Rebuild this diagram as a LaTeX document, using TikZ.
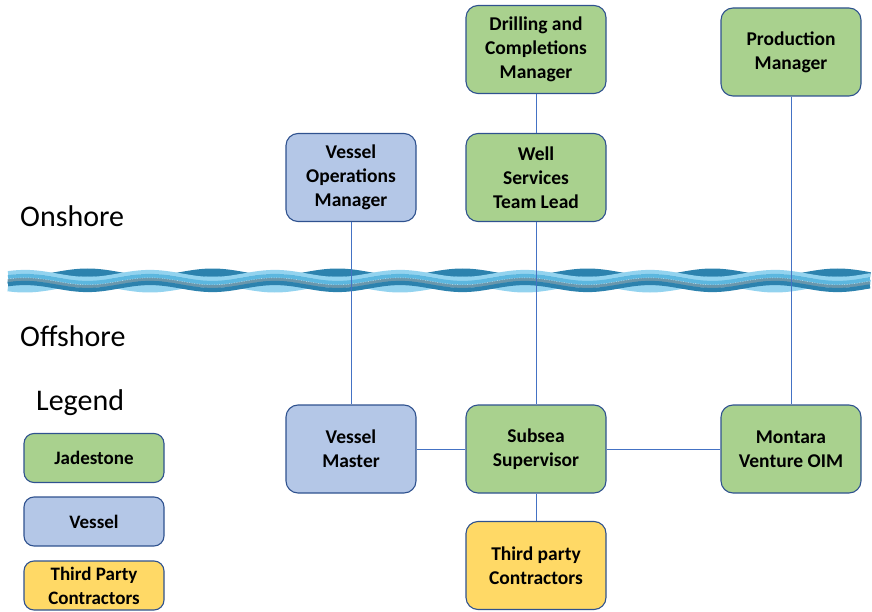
\documentclass[tikz,border=0pt]{standalone}
\usepackage{fontspec}
\setmainfont{Carlito}
\definecolor{jgreen}{HTML}{A9D18E}
\definecolor{vblue}{HTML}{B4C7E7}
\definecolor{tyellow}{HTML}{FFD966}
\definecolor{bord}{HTML}{2F528F}
\definecolor{conn}{HTML}{4472C4}
\definecolor{wdark}{HTML}{2C82AE}
\definecolor{wmid}{HTML}{5CB7DF}
\definecolor{wlight}{HTML}{93D3EF}
\definecolor{wgrey}{HTML}{6A97AC}
\begin{document}
\begin{tikzpicture}[x=1pt,y=-1pt,
  box/.style={draw=bord, line width=1.1pt, rounded corners=12pt, minimum width=140pt, minimum height=88pt, align=center, font=\fontsize{19.5}{24}\selectfont\bfseries, text=black, inner sep=2pt},
  lbox/.style={draw=bord, line width=1.1pt, rounded corners=10pt, minimum width=140pt, minimum height=49pt, align=center, font=\fontsize{19}{24}\selectfont\bfseries, text=black, inner sep=1pt},
  link/.style={draw=conn, line width=0.6pt},
  side/.style={anchor=west, font=\fontsize{30}{34}\selectfont, text=black, inner sep=0pt}]
\useasboundingbox (0,0) rectangle (872,612);
% wave: back ribbon
\foreach \off/\col/\w in {-4/wdark/9, 4/wlight/9}{
  \draw[\col, line width=\w pt] plot[domain=8:870, samples=240] (\x, {280.5 + \off + 3.5*cos(2.88*(\x-150))});
}
% wave: front ribbon
\foreach \off/\col/\w in {-5/wlight/4.2, -1/wmid/4.2, 2.5/wgrey/3.2, 6/wdark/4.2}{
  \draw[\col, line width=\w pt] plot[domain=8:870, samples=240] (\x, {280.5 + \off - 3.5*cos(2.88*(\x-150))});
}
\draw[white, line width=0.4pt, dash pattern=on 1pt off 1.5pt, opacity=0.7] plot[domain=8:870, samples=240] (\x, {281.3 - 3.5*cos(2.88*(\x-150))});
% nodes
\node[box, fill=jgreen] (dcm) at (536,49.5) {Drilling and\\Completions\\Manager};
\node[box, fill=jgreen] (pm) at (791,52) {Production\\Manager};
\node[box, fill=vblue, minimum width=130pt] (vom) at (351,177.5) {Vessel\\Operations\\Manager};
\node[box, fill=jgreen] (wstl) at (536,177.5) {Well\\Services\\Team Lead};
\node[box, fill=vblue, minimum width=130pt] (vm) at (351,449) {Vessel\\Master};
\node[box, fill=jgreen] (ss) at (536,449) {Subsea\\Supervisor};
\node[box, fill=jgreen] (oim) at (791,449) {Montara\\Venture OIM};
\node[box, fill=tyellow] (tpc) at (536,565.5) {Third party\\Contractors};
% legend
\node[lbox, fill=jgreen] (lj) at (94,458) {Jadestone};
\node[lbox, fill=vblue] (lv) at (94,521.5) {Vessel};
\node[lbox, fill=tyellow] (lt) at (94,585.5) {Third Party\\Contractors};
% side labels
\node[side] (on) at (20,216) {Onshore};
\node[side] (off) at (20,336) {Offshore};
\node[side] (leg) at (36,403) {Legend};
% connectors
\draw[link] (dcm) -- (wstl);
\draw[link] (wstl) -- (ss);
\draw[link] (vom) -- (vm);
\draw[link] (pm) -- (oim);
\draw[link] (vm) -- (ss);
\draw[link] (ss) -- (oim);
\draw[link] (ss) -- (tpc);
\end{tikzpicture}
\end{document}
